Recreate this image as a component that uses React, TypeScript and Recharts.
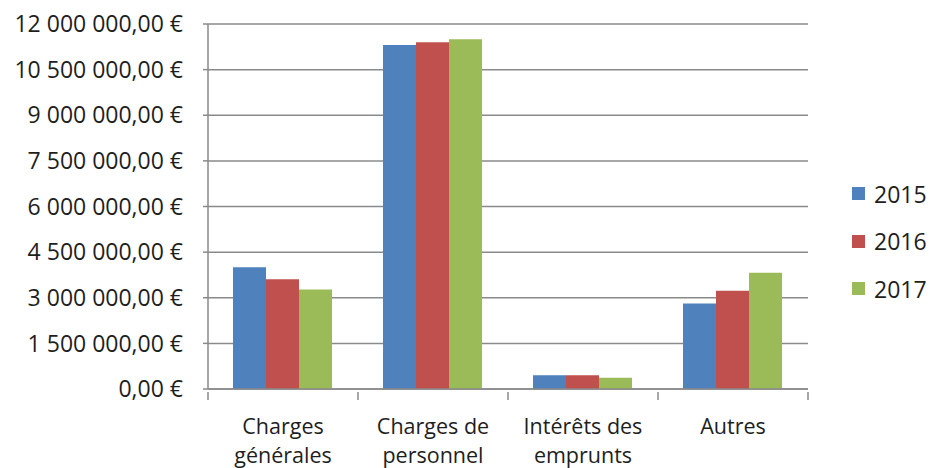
import React from 'react';
import { BarChart, Bar, XAxis, YAxis, CartesianGrid, Legend } from 'recharts';

// categories (line breaks as wrapped in the original)
const categories = ['Charges\ngénérales', 'Charges de\npersonnel', 'Intérêts des\nemprunts', 'Autres'];
const years = ['2015', '2016', '2017'];
const colors = ['#4F81BD', '#C0504D', '#9BBB59'];

const values2015 = [4000000, 11310000, 450000, 2810000];
const values2016 = [3610000, 11400000, 450000, 3230000];
const values2017 = [3270000, 11500000, 370000, 3820000];

const yTicks = [0, 1500000, 3000000, 4500000, 6000000, 7500000, 9000000, 10500000, 12000000];

const data = categories.map((name, i) => ({
  name,
  '2015': values2015[i],
  '2016': values2016[i],
  '2017': values2017[i],
}));

const FONT = '"Open Sans", sans-serif';
const GRID = '#8a8a8a';
const TEXT = '#1e1e1e';

const formatEuro = (v: number) => {
  const [int, dec] = v.toFixed(2).split('.');
  const grouped = int.replace(/\B(?=(\d{3})+(?!\d))/g, ' ');
  return `${grouped},${dec} €`;
};

const CategoryTick = (props: any) => {
  const { x, y, payload, index } = props;
  const band = 150;
  const lines: string[] = String(payload.value).split('\n');
  const left = x - band / 2;
  return (
    <g>
      <line x1={left} y1={y - 5} x2={left} y2={y + 3} stroke={GRID} strokeWidth={1.5} />
      {index === categories.length - 1 && (
        <line x1={x + band / 2} y1={y - 5} x2={x + band / 2} y2={y + 3} stroke={GRID} strokeWidth={1.5} />
      )}
      <text x={x} y={y} textAnchor="middle" fill={TEXT} fontSize={21.5} fontFamily={FONT}>
        {lines.map((l, i) => (
          <tspan key={i} x={x} y={y + 37 + i * 29}>
            {l}
          </tspan>
        ))}
      </text>
    </g>
  );
};

const LegendContent = () => (
  <div style={{ fontFamily: FONT, fontSize: 23, color: TEXT }}>
    {years.map((yr, i) => (
      <div key={yr} style={{ display: 'flex', alignItems: 'center', height: 47.5 }}>
        <span style={{ display: 'inline-block', width: 13, height: 13, background: colors[i], marginRight: 9 }} />
        <span>{yr}</span>
      </div>
    ))}
  </div>
);

export default function App() {
  return (
    <div style={{ position: 'absolute', left: 0, top: 0, width: 930, height: 468, background: '#fff' }}>
      <BarChart
        width={930}
        height={468}
        data={data}
        margin={{ top: 24, right: 122, bottom: 0, left: 0 }}
        barCategoryGap="16.67%"
        barGap={0}
      >
        <CartesianGrid horizontal vertical={false} stroke={GRID} strokeWidth={1.5} />
        <XAxis
          dataKey="name"
          height={79}
          axisLine={{ stroke: GRID, strokeWidth: 1.5 }}
          tickLine={false}
          tick={<CategoryTick />}
          interval={0}
        />
        <YAxis
          width={208}
          domain={[0, 12000000]}
          ticks={yTicks}
          tickFormatter={formatEuro}
          axisLine={{ stroke: GRID, strokeWidth: 1.5 }}
          tickLine={{ stroke: GRID, strokeWidth: 1.5 }}
          tickSize={5}
          tickMargin={20}
          tick={{ fill: TEXT, fontSize: 23, fontFamily: FONT }}
          interval={0}
        />
        <Legend
          layout="vertical"
          align="center"
          verticalAlign="middle"
          content={<LegendContent />}
          wrapperStyle={{ left: 852, top: 170, width: 'auto' }}
        />
        {years.map((yr, i) => (
          <Bar key={yr} dataKey={yr} fill={colors[i]} isAnimationActive={false} />
        ))}
      </BarChart>
    </div>
  );
}
